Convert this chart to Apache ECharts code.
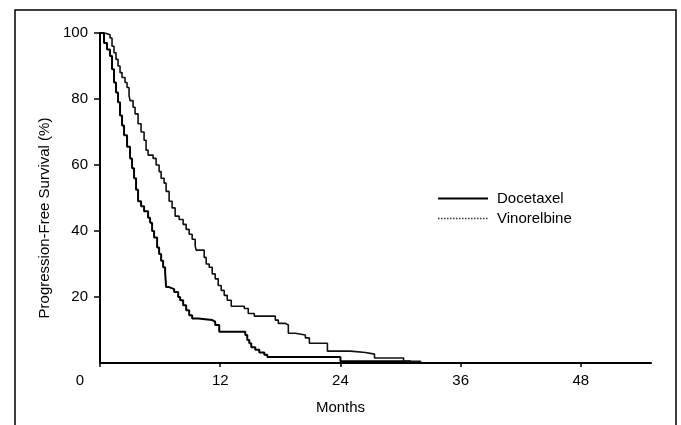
<!DOCTYPE html>
<html>
<head>
<meta charset="utf-8">
<script src="https://cdn.jsdelivr.net/npm/echarts@6/dist/echarts.min.js"></script>
<style>
  html, body { margin: 0; padding: 0; background: #fff; }
  #chart { width: 681px; height: 425px; }
</style>
</head>
<body>
<div id="chart"></div>
<script>
// Kaplan-Meier curves: [months, survival % after the event]
const docetaxel = [
  [0, 100], [0.4, 97], [0.7, 95], [1.0, 93], [1.2, 89], [1.4, 85], [1.6, 82], [1.8, 79],
  [2.0, 75], [2.2, 72], [2.4, 69], [2.7, 65.5], [3.0, 62], [3.2, 59], [3.4, 56], [3.6, 52.5],
  [3.8, 49], [4.1, 47.5], [4.4, 46], [4.8, 44], [5.0, 42.5], [5.2, 40], [5.4, 38], [5.7, 35],
  [5.9, 33], [6.1, 31], [6.3, 29], [6.5, 27.5], [6.6, 23], [6.9, 22.4], [7.4, 21.5], [7.8, 20],
  [8.0, 19], [8.3, 17.5], [8.6, 16], [8.9, 14.5], [9.2, 13.5], [9.8, 13], [11.2, 12.5],
  [11.5, 11.5], [11.9, 9.5], [14.5, 8.5], [14.7, 7], [14.9, 6], [15.1, 4.8], [15.5, 4],
  [15.9, 3.2], [16.4, 2.5], [16.7, 1.8], [24.0, 0.5], [31, 0]
]
const vinorelbine = [
  [0, 100], [0.5, 99.5], [1.0, 98.5], [1.2, 96], [1.4, 94], [1.6, 92], [1.8, 90], [2.0, 88],
  [2.2, 86.5], [2.5, 85], [2.7, 83.5], [2.9, 81], [3.0, 79.5], [3.3, 77.5], [3.5, 75.5],
  [3.8, 72.5], [4.1, 70], [4.4, 67.5], [4.6, 64.5], [4.8, 63], [5.3, 62], [5.6, 60], [5.9, 58],
  [6.1, 56], [6.4, 54.5], [6.6, 52], [6.9, 49], [7.2, 47], [7.5, 44.5], [7.9, 43.5], [8.3, 42],
  [8.6, 40.5], [8.9, 39], [9.2, 37.5], [9.5, 35.5], [9.6, 34.2], [10.4, 32], [10.6, 30],
  [10.9, 29], [11.2, 27], [11.5, 25.5], [11.8, 23.5], [12.1, 22], [12.4, 20.5], [12.7, 19],
  [13.1, 17.2], [14.4, 16.5], [14.8, 15], [15.4, 14.2], [17.5, 13], [17.8, 12], [18.5, 11.5],
  [18.8, 9], [19.5, 8.5], [20.5, 7.6], [20.9, 6], [22.7, 3.6], [25.0, 3.2], [26.5, 2.7],
  [27.4, 1.5], [30.3, 0.5], [32, 0]
]
const monthTicks = [0, 12, 24, 36, 48]
const seriesNames = ['Docetaxel', 'Vinorelbine']

const font = 'Arial, "Liberation Sans", sans-serif'

const chart = echarts.init(document.getElementById('chart'))

chart.setOption({
  animation: false,
  backgroundColor: '#fff',
  textStyle: { fontFamily: font, color: '#000' },
  graphic: [{
    type: 'rect',
    shape: { x: 15, y: 10, width: 661, height: 440 },
    style: { fill: 'none', stroke: '#000', lineWidth: 1.5 },
    silent: true
  }],
  grid: { left: 100, top: 33, right: 30, bottom: 62 },
  legend: {
    orient: 'vertical',
    left: 432,
    top: 186,
    itemWidth: 50,
    itemHeight: 14,
    itemGap: 5,
    itemStyle: { opacity: 0 },
    textStyle: { fontFamily: font, fontSize: 15, color: '#000', padding: [0, 0, 0, 4] },
    data: [
      { name: seriesNames[0] },
      { name: seriesNames[1], lineStyle: { type: 'dotted', color: '#333', width: 1.5 } }
    ]
  },
  xAxis: {
    type: 'value',
    min: 0,
    max: 55,
    interval: 12,
    name: 'Months',
    nameLocation: 'middle',
    nameGap: 37,
    nameTextStyle: { fontSize: 15, color: '#000', padding: [0, 70, 0, 0] },
    splitLine: { show: false },
    axisLine: { lineStyle: { color: '#000', width: 2 } },
    axisTick: { customValues: monthTicks, length: 4, lineStyle: { color: '#000', width: 1.5 } },
    axisLabel: {
      customValues: monthTicks,
      margin: 10,
      fontSize: 15,
      color: '#000',
      formatter: v => (v === 0 ? '{z|0}' : String(v)),
      rich: { z: { fontSize: 15, color: '#000', padding: [0, 40, 0, 0] } }
    }
  },
  yAxis: {
    type: 'value',
    min: 0,
    max: 100,
    interval: 20,
    name: 'Progression-Free Survival (%)',
    nameLocation: 'middle',
    nameGap: 46,
    nameTextStyle: { fontSize: 15, color: '#000', padding: [0, 40, 0, 0] },
    splitLine: { show: false },
    axisLine: { lineStyle: { color: '#000', width: 2 } },
    axisTick: { length: 6, lineStyle: { color: '#000', width: 1.5 } },
    axisLabel: {
      margin: 12,
      fontSize: 15,
      color: '#000',
      showMinLabel: false
    }
  },
  series: [
    {
      name: seriesNames[0],
      type: 'line',
      step: 'end',
      symbol: 'none',
      data: docetaxel,
      itemStyle: { color: '#000' },
      lineStyle: { color: '#000', width: 2 }
    },
    {
      name: seriesNames[1],
      type: 'line',
      step: 'end',
      symbol: 'none',
      data: vinorelbine,
      itemStyle: { color: '#111' },
      lineStyle: { color: '#111', width: 1.6 }
    }
  ]
})
</script>
</body>
</html>
